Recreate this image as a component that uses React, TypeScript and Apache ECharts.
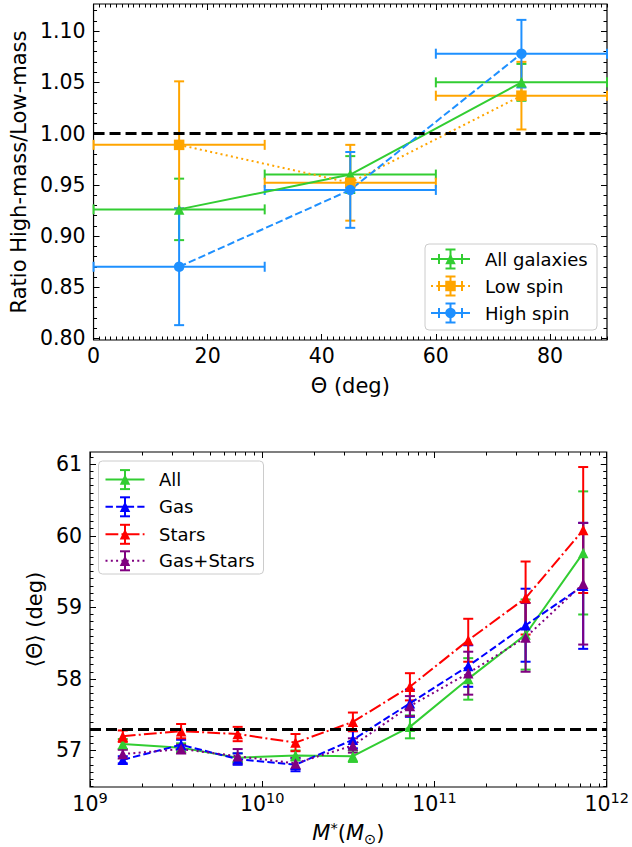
import React, { useEffect, useRef } from "react";
import * as echarts from "echarts";

const FONT = "'DejaVu Sans', sans-serif";

// ---------------- Top panel data ----------------
const thetaCenters = [15, 45, 75];
const thetaHalfBin = [15, 15, 15];
const ratioAll = [0.926, 0.96, 1.05];
const ratioAllErr = [0.03, 0.018, 0.018];
const ratioLow = [0.989, 0.952, 1.037];
const ratioLowErr = [0.062, 0.037, 0.033];
const ratioHigh = [0.87, 0.945, 1.078];
const ratioHighErr = [0.057, 0.037, 0.033];
const ratioReference = 1.0;
const topXMajor = [0, 20, 40, 60, 80];
const topYMajor = [0.8, 0.85, 0.9, 0.95, 1.0, 1.05, 1.1];

// ---------------- Bottom panel data ----------------
const stellarMass = [1.55e9, 3.38e9, 7.2e9, 1.56e10, 3.36e10, 7.2e10, 1.57e11, 3.38e11, 7.3e11];
const thetaAll = [57.09, 57.04, 56.9, 56.93, 56.92, 57.33, 58.0, 58.62, 59.76];
const thetaAllErr = [0.07, 0.06, 0.06, 0.07, 0.08, 0.16, 0.29, 0.49, 0.86];
const thetaGas = [56.87, 57.08, 56.88, 56.8, 57.15, 57.66, 58.18, 58.75, 59.3];
const thetaGasErr = [0.05, 0.07, 0.08, 0.09, 0.12, 0.19, 0.29, 0.51, 0.88];
const thetaStars = [57.2, 57.27, 57.23, 57.11, 57.4, 57.89, 58.54, 59.13, 60.08];
const thetaStarsErr = [0.08, 0.1, 0.1, 0.12, 0.13, 0.19, 0.3, 0.51, 0.88];
const thetaGasStars = [56.95, 57.02, 56.92, 56.82, 57.07, 57.62, 58.08, 58.58, 59.33];
const thetaGasStarsErr = [0.06, 0.06, 0.1, 0.08, 0.1, 0.14, 0.3, 0.48, 0.85];
const thetaReference = 57.3;
const bottomYMajor = [57, 58, 59, 60, 61];
const massDecades = [9, 10, 11];

// ---------------- layout ----------------
const TOP_GRID = { left: 90, top: 4, width: 517, height: 336 };
const BOT_GRID = { left: 90, top: 452, width: 517, height: 335 };
const TOP_X = [0, 90];
const TOP_Y = [0.7985, 1.1265];
const BOT_X = [1e9, 1e12];
const BOT_Y = [56.49, 61.17];

const GREEN = "#32CD32";
const ORANGE = "#FFA500";
const DODGER = "#1E90FF";
const BLUE = "#0000FF";
const RED = "#FF0000";
const PURPLE = "#800080";

const DOTTED = [2, 3.3];
const DASHED = [7.4, 3.2];
const DASHDOT = [12.8, 3.2, 2, 3.2];

const r2 = (v: number) => Math.round(v * 1000) / 1000;

function minorList(lo: number, hi: number, step: number, majors: number[]) {
  const out: number[] = [];
  const n = Math.round((hi - lo) / step);
  for (let i = 0; i <= n; i++) {
    const v = r2(lo + i * step);
    if (!majors.some((m) => Math.abs(m - v) < step / 10)) out.push(v);
  }
  return out;
}

const topXMinor = minorList(0, 90, 1, topXMajor);
const topYMinor = minorList(0.8, 1.12, 0.01, topYMajor);
const botYMinor = minorList(56.5, 61.1, 0.1, bottomYMajor);
const logMinor: number[] = [];
massDecades.forEach((d) => {
  for (let k = 2; k <= 9; k++) logMinor.push(d + Math.log10(k));
});

const tickLine = { color: "#000", width: 1 };
const labelStyle = { color: "#000", fontFamily: FONT, fontSize: 20.5 };

function tickAxis(
  gridIndex: number,
  type: string,
  range: number[],
  position: string,
  values: number[] | null,
  len: number
) {
  const axisTick: any = { show: true, inside: true, length: len, lineStyle: tickLine };
  if (values) axisTick.customValues = values;
  return {
    type,
    gridIndex,
    min: range[0],
    max: range[1],
    position,
    axisLine: { show: false, onZero: false },
    splitLine: { show: false },
    minorTick: { show: false },
    axisTick,
    axisLabel: { show: false },
  };
}

function errRender(color: string) {
  return (params: any, api: any) => {
    const x = api.value(0);
    const y = api.value(1);
    const xe = api.value(2);
    const ye = api.value(3);
    const cap = 5;
    const style = { stroke: color, lineWidth: 2 };
    const children: any[] = [];
    const t = api.coord([x, y + ye]);
    const b = api.coord([x, y - ye]);
    children.push({ type: "line", shape: { x1: t[0], y1: t[1], x2: b[0], y2: b[1] }, style });
    children.push({ type: "line", shape: { x1: t[0] - cap, y1: t[1], x2: t[0] + cap, y2: t[1] }, style });
    children.push({ type: "line", shape: { x1: b[0] - cap, y1: b[1], x2: b[0] + cap, y2: b[1] }, style });
    if (xe > 0) {
      const l = api.coord([x - xe, y]);
      const r = api.coord([x + xe, y]);
      children.push({ type: "line", shape: { x1: l[0], y1: l[1], x2: r[0], y2: r[1] }, style });
      children.push({ type: "line", shape: { x1: l[0], y1: l[1] - cap, x2: l[0], y2: l[1] + cap }, style });
      children.push({ type: "line", shape: { x1: r[0], y1: r[1] - cap, x2: r[0], y2: r[1] + cap }, style });
    }
    return { type: "group", children };
  };
}

function errSeries(axisIdx: number, xs: number[], ys: number[], xe: number[] | null, ye: number[], color: string) {
  return {
    type: "custom",
    coordinateSystem: "cartesian2d",
    xAxisIndex: axisIdx,
    yAxisIndex: axisIdx,
    data: xs.map((x, i) => [x, ys[i], xe ? xe[i] : 0, ye[i]]),
    encode: { x: 0, y: 1 },
    renderItem: errRender(color),
    z: 2,
    silent: true,
    clip: false,
  };
}

function lineSeries(axisIdx: number, xs: number[], ys: number[], color: string, dash: any, symbol: string, extra: any = {}) {
  return {
    type: "line",
    xAxisIndex: axisIdx,
    yAxisIndex: axisIdx,
    data: xs.map((x, i) => [x, ys[i]]),
    symbol,
    symbolSize: 10.5,
    showSymbol: true,
    lineStyle: { color, width: 2, type: dash, cap: "butt" },
    itemStyle: { color },
    z: 3,
    silent: true,
    clip: false,
    ...extra,
  };
}

function refLine(value: number) {
  return {
    silent: true,
    symbol: "none",
    label: { show: false },
    lineStyle: { color: "#000", width: 3, type: [11, 5] },
    data: [{ yAxis: value }],
  };
}

function marker(kind: string, cx: number, cy: number, s: number, color: string) {
  if (kind === "triangle")
    return {
      type: "polygon",
      z: 101,
      shape: { points: [[cx, cy - s / 2], [cx + s / 2, cy + s / 2], [cx - s / 2, cy + s / 2]] },
      style: { fill: color },
    };
  if (kind === "rect")
    return { type: "rect", z: 101, shape: { x: cx - s / 2, y: cy - s / 2, width: s, height: s }, style: { fill: color } };
  return { type: "circle", z: 101, shape: { cx, cy, r: s / 2 }, style: { fill: color } };
}

function legendEntry(
  x1: number,
  x2: number,
  cy: number,
  color: string,
  dash: any,
  kind: string,
  withXerr: boolean,
  label: string,
  textX: number
) {
  const cx = (x1 + x2) / 2;
  const st: any = { stroke: color, lineWidth: 2 };
  const els: any[] = [];
  els.push({
    type: "line",
    z: 100,
    shape: { x1, y1: cy, x2, y2: cy },
    style: { stroke: color, lineWidth: 2, lineDash: dash === "solid" ? null : dash },
  });
  const ve = 9.5;
  const cap = 5;
  els.push({ type: "line", z: 100, shape: { x1: cx, y1: cy - ve, x2: cx, y2: cy + ve }, style: st });
  els.push({ type: "line", z: 100, shape: { x1: cx - cap, y1: cy - ve, x2: cx + cap, y2: cy - ve }, style: st });
  els.push({ type: "line", z: 100, shape: { x1: cx - cap, y1: cy + ve, x2: cx + cap, y2: cy + ve }, style: st });
  if (withXerr) {
    const he = 11.5;
    els.push({ type: "line", z: 100, shape: { x1: cx - he, y1: cy, x2: cx + he, y2: cy }, style: st });
    els.push({ type: "line", z: 100, shape: { x1: cx - he, y1: cy - cap, x2: cx - he, y2: cy + cap }, style: st });
    els.push({ type: "line", z: 100, shape: { x1: cx + he, y1: cy - cap, x2: cx + he, y2: cy + cap }, style: st });
  }
  els.push(marker(kind, cx, cy, 10.5, color));
  els.push({
    type: "text",
    z: 101,
    x: textX,
    y: cy,
    style: { text: label, fill: "#000", font: `18px ${FONT}`, textVerticalAlign: "middle", textAlign: "left" },
  });
  return els;
}

function buildOption() {
  const supRich = {
    b: { fontSize: 20.5, fontFamily: FONT, color: "#000", lineHeight: 24, verticalAlign: "bottom" },
    s: { fontSize: 14.5, fontFamily: FONT, color: "#000", lineHeight: 10, verticalAlign: "top" },
  };
  const nameRich = {
    i: { fontSize: 21, fontFamily: FONT, fontStyle: "italic", color: "#000", lineHeight: 26, verticalAlign: "middle" },
    n: { fontSize: 21, fontFamily: FONT, color: "#000", lineHeight: 26, verticalAlign: "middle" },
    sup: { fontSize: 14.5, fontFamily: FONT, color: "#000", lineHeight: 12, verticalAlign: "top" },
    sub: { fontSize: 14.5, fontFamily: FONT, color: "#000", lineHeight: 12, verticalAlign: "bottom" },
  };

  const xAxis: any[] = [
    {
      ...tickAxis(0, "value", TOP_X, "bottom", topXMajor, 6),
      axisLabel: { show: true, customValues: topXMajor, margin: 5, ...labelStyle, formatter: (v: number) => String(v) },
      name: "Θ (deg)",
      nameLocation: "middle",
      nameGap: 35,
      nameTextStyle: { color: "#000", fontFamily: FONT, fontSize: 21 },
    },
    tickAxis(0, "value", TOP_X, "bottom", topXMinor, 3.5),
    tickAxis(0, "value", TOP_X, "top", topXMajor, 6),
    tickAxis(0, "value", TOP_X, "top", topXMinor, 3.5),
    {
      ...tickAxis(1, "log", BOT_X, "bottom", null, 6),
      logBase: 10,
      axisLabel: {
        show: true,
        margin: 3,
        formatter: (v: number) => `{b|10}{s|${Math.round(Math.log10(v))}}`,
        rich: supRich,
      },
      name: "{i|M}{sup|*}{n|(}{i|M}{sub|⊙}{n|)}",
      nameLocation: "middle",
      nameGap: 33,
      nameTextStyle: { rich: nameRich },
    },
    tickAxis(1, "value", [9, 12], "bottom", logMinor, 3.5),
    { ...tickAxis(1, "log", BOT_X, "top", null, 6), logBase: 10 },
    tickAxis(1, "value", [9, 12], "top", logMinor, 3.5),
  ];

  const yAxis: any[] = [
    {
      ...tickAxis(0, "value", TOP_Y, "left", topYMajor, 6),
      axisLabel: { show: true, customValues: topYMajor, margin: 8, ...labelStyle, formatter: (v: number) => v.toFixed(2) },
      name: "Ratio High-mass/Low-mass",
      nameLocation: "middle",
      nameGap: 62,
      nameTextStyle: { color: "#000", fontFamily: FONT, fontSize: 21 },
    },
    tickAxis(0, "value", TOP_Y, "left", topYMinor, 3.5),
    tickAxis(0, "value", TOP_Y, "right", topYMajor, 6),
    tickAxis(0, "value", TOP_Y, "right", topYMinor, 3.5),
    {
      ...tickAxis(1, "value", BOT_Y, "left", bottomYMajor, 6),
      axisLabel: { show: true, customValues: bottomYMajor, margin: 8, ...labelStyle, formatter: (v: number) => String(v) },
      name: "⟨Θ⟩ (deg)",
      nameLocation: "middle",
      nameGap: 38,
      nameTextStyle: { color: "#000", fontFamily: FONT, fontSize: 21 },
    },
    tickAxis(1, "value", BOT_Y, "left", botYMinor, 3.5),
    tickAxis(1, "value", BOT_Y, "right", bottomYMajor, 6),
    tickAxis(1, "value", BOT_Y, "right", botYMinor, 3.5),
  ];

  const series: any[] = [
    errSeries(0, thetaCenters, ratioAll, thetaHalfBin, ratioAllErr, GREEN),
    errSeries(0, thetaCenters, ratioLow, thetaHalfBin, ratioLowErr, ORANGE),
    errSeries(0, thetaCenters, ratioHigh, thetaHalfBin, ratioHighErr, DODGER),
    lineSeries(0, thetaCenters, ratioAll, GREEN, "solid", "triangle", { markLine: refLine(ratioReference) }),
    lineSeries(0, thetaCenters, ratioLow, ORANGE, DOTTED, "rect"),
    lineSeries(0, thetaCenters, ratioHigh, DODGER, DASHED, "circle"),

    errSeries(4, stellarMass, thetaAll, null, thetaAllErr, GREEN),
    errSeries(4, stellarMass, thetaGas, null, thetaGasErr, BLUE),
    errSeries(4, stellarMass, thetaStars, null, thetaStarsErr, RED),
    errSeries(4, stellarMass, thetaGasStars, null, thetaGasStarsErr, PURPLE),
    lineSeries(4, stellarMass, thetaAll, GREEN, "solid", "triangle", { markLine: refLine(thetaReference) }),
    lineSeries(4, stellarMass, thetaGas, BLUE, DASHED, "triangle"),
    lineSeries(4, stellarMass, thetaStars, RED, DASHDOT, "triangle"),
    lineSeries(4, stellarMass, thetaGasStars, PURPLE, DOTTED, "triangle"),
  ];

  const boxStyle = { fill: "rgba(255,255,255,0.8)", stroke: "#cccccc", lineWidth: 1 };
  const graphic: any[] = [
    { type: "rect", z: 99, shape: { x: 425, y: 244, width: 172, height: 86, r: 4 }, style: boxStyle },
    ...legendEntry(431, 470, 259, GREEN, "solid", "triangle", true, "All galaxies", 485),
    ...legendEntry(431, 470, 286, ORANGE, DOTTED, "rect", true, "Low spin", 485),
    ...legendEntry(431, 470, 313, DODGER, DASHED, "circle", true, "High spin", 485),
    { type: "rect", z: 99, shape: { x: 98.5, y: 461, width: 165, height: 113, r: 4 }, style: boxStyle },
    ...legendEntry(105.5, 144.5, 479.6, GREEN, "solid", "triangle", false, "All", 159),
    ...legendEntry(105.5, 144.5, 506.8, BLUE, DASHED, "triangle", false, "Gas", 159),
    ...legendEntry(105.5, 144.5, 534.3, RED, DASHDOT, "triangle", false, "Stars", 159),
    ...legendEntry(105.5, 144.5, 560.8, PURPLE, DOTTED, "triangle", false, "Gas+Stars", 159),
  ];

  return {
    animation: false,
    backgroundColor: "#fff",
    textStyle: { fontFamily: FONT },
    grid: [
      { ...TOP_GRID, show: true, borderColor: "#000", borderWidth: 1.2, backgroundColor: "transparent", containLabel: false },
      { ...BOT_GRID, show: true, borderColor: "#000", borderWidth: 1.2, backgroundColor: "transparent", containLabel: false },
    ],
    xAxis,
    yAxis,
    series,
    graphic,
  };
}

export default function App() {
  const ref = useRef<HTMLDivElement>(null);
  useEffect(() => {
    if (!ref.current) return;
    const chart = echarts.init(ref.current, undefined, { renderer: "svg" });
    chart.setOption(buildOption() as any);
    return () => chart.dispose();
  }, []);
  return <div ref={ref} style={{ position: "fixed", left: 0, top: 0, width: 632, height: 847 }} />;
}
